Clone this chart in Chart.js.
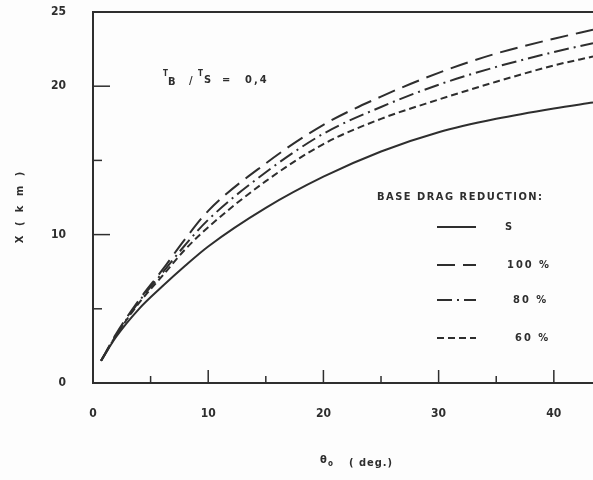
<!DOCTYPE html>
<html>
<head>
<meta charset="utf-8">
<script src="https://cdn.jsdelivr.net/npm/chart.js@4"></script>
<style>
  html, body { margin: 0; padding: 0; background: #fdfdfd; }
  #wrap { width: 593px; height: 480px; }
</style>
</head>
<body>
<div id="wrap"><canvas id="myChart" width="593" height="480"></canvas></div>
<script>
// theta_0 (deg) sample points
const theta = [0.7, 2, 4, 6, 8, 10, 15, 20, 25, 30, 35, 40, 43.4];
// X (km) for each curve
const sValues = [1.5, 3.1, 5.0, 6.5, 7.9, 9.2, 11.8, 13.9, 15.6, 16.9, 17.8, 18.5, 18.9];
const red100 = [1.5, 3.3, 5.6, 7.6, 9.7, 11.6, 14.8, 17.4, 19.3, 20.9, 22.2, 23.2, 23.8];
const red80 = [1.5, 3.2, 5.5, 7.4, 9.3, 11.0, 14.2, 16.8, 18.6, 20.1, 21.3, 22.3, 22.9];
const red60 = [1.5, 3.2, 5.4, 7.2, 9.0, 10.5, 13.6, 16.1, 17.8, 19.1, 20.3, 21.4, 22.0];
const legendLabels = ["S", "100 %", "80 %", "60 %"];
const yTicks = [0, 5, 10, 15, 20, 25];
const yLabelTicks = [0, 10, 20, 25];
const xTicks = [0, 5, 10, 15, 20, 25, 30, 35, 40];
const xLabelTicks = [0, 10, 20, 30, 40];

const ink = "#2e2e2e";
const font = "'DejaVu Sans Condensed', 'DejaVu Sans', sans-serif";

function pts(ys) {
  return ys.map((y, i) => ({ x: theta[i], y: y }));
}

function series(label, ys, dash) {
  return {
    label: label,
    data: pts(ys),
    borderColor: ink,
    borderWidth: 2,
    borderDash: dash,
    pointRadius: 0,
    cubicInterpolationMode: "monotone",
    fill: false,
  };
}

// inward tick marks, top frame, titles, note and legend
const extras = {
  id: "extras",
  afterDraw(chart) {
    const c = chart.ctx;
    const a = chart.chartArea;
    const xs = chart.scales.x;
    const ys = chart.scales.y;
    c.save();
    c.strokeStyle = ink;
    c.fillStyle = ink;

    // top frame line
    c.lineWidth = 2;
    c.beginPath();
    c.moveTo(a.left, a.top);
    c.lineTo(a.right, a.top);
    c.stroke();

    c.lineWidth = 1.5;
    yTicks.filter((v) => v > 0 && v < 25).forEach((v) => {
      const y = ys.getPixelForValue(v);
      const len = v % 10 === 0 ? 17 : 9;
      c.beginPath();
      c.moveTo(a.left, y);
      c.lineTo(a.left + len, y);
      c.stroke();
    });
    xTicks.filter((v) => v > 0).forEach((v) => {
      const x = xs.getPixelForValue(v);
      const len = v % 10 === 0 ? 13 : 7;
      c.beginPath();
      c.moveTo(x, a.bottom);
      c.lineTo(x, a.bottom - len);
      c.stroke();
    });

    // axis titles
    c.font = "bold 11px " + font;
    c.letterSpacing = "3px";
    c.textAlign = "center";
    c.textBaseline = "middle";
    c.save();
    c.translate(20, 206);
    c.rotate(-Math.PI / 2);
    c.fillText("X ( k m )", 0, 0);
    c.restore();

    c.letterSpacing = "0px";
    c.textAlign = "left";
    c.font = "bold 11px " + font;
    c.fillText("θ", 320, 460);
    c.font = "bold 8px " + font;
    c.fillText("o", 328, 464);
    c.font = "bold 11px " + font;
    c.letterSpacing = "1px";
    c.fillText("( deg.)", 349, 463);

    // ratio note
    c.letterSpacing = "0px";
    c.font = "bold 8px " + font;
    c.fillText("T", 163, 74);
    c.fillText("T", 198, 74);
    c.font = "bold 11px " + font;
    c.fillText("B", 168, 82);
    c.fillText("/", 189, 81);
    c.fillText("S", 204, 80);
    c.fillText("=", 222, 80);
    c.letterSpacing = "2px";
    c.fillText("0,4", 245, 80);

    // legend
    c.font = "bold 11px " + font;
    c.letterSpacing = "1.5px";
    c.fillText("BASE DRAG REDUCTION:", 377, 197);
    const rows = [227, 265, 300, 338];
    const lx = [505, 507, 513, 515];
    chart.data.datasets.forEach((ds, i) => {
      c.lineWidth = 2;
      c.setLineDash(ds.borderDash || []);
      c.beginPath();
      c.moveTo(437, rows[i]);
      c.lineTo(476, rows[i]);
      c.stroke();
      c.setLineDash([]);
      c.letterSpacing = "2px";
      c.fillText(legendLabels[i], lx[i], rows[i]);
    });
    c.restore();
  },
};

const ctx = document.getElementById("myChart").getContext("2d");
let chart = new Chart(ctx, {
  type: "line",
  data: {
    datasets: [
      series("S", sValues, []),
      series("100 %", red100, [18, 8]),
      series("80 %", red80, [15, 5, 2, 5]),
      series("60 %", red60, [7, 4]),
    ],
  },
  options: {
    responsive: false,
    animation: false,
    layout: { padding: { top: 12, right: 0, left: 0, bottom: 0 } },
    plugins: { legend: { display: false }, tooltip: { enabled: false } },
    scales: {
      x: {
        type: "linear",
        min: 0,
        max: 43.4,
        afterBuildTicks: (s) => { s.ticks = xTicks.map((v) => ({ value: v })); },
        afterFit: (s) => {
          s.height = 97;
          s.paddingLeft = 0;
          s.paddingRight = 0;
        },
        border: { color: ink, width: 2 },
        grid: { display: false, drawTicks: false },
        ticks: {
          padding: 24,
          autoSkip: false,
          maxRotation: 0,
          color: ink,
          font: { family: font, size: 12, weight: "bold" },
          callback: (v) => (xLabelTicks.includes(v) ? String(v) : ""),
        },
      },
      y: {
        min: 0,
        max: 25,
        afterBuildTicks: (s) => { s.ticks = yTicks.map((v) => ({ value: v })); },
        afterFit: (s) => {
          s.width = 93;
          s.paddingTop = 0;
          s.paddingBottom = 0;
        },
        border: { color: ink, width: 2 },
        grid: { display: false, drawTicks: false },
        ticks: {
          padding: 27,
          autoSkip: false,
          color: ink,
          font: { family: font, size: 12, weight: "bold" },
          callback: (v) => (yLabelTicks.includes(v) ? String(v) : ""),
        },
      },
    },
  },
  plugins: [extras],
});
</script>
</body>
</html>
